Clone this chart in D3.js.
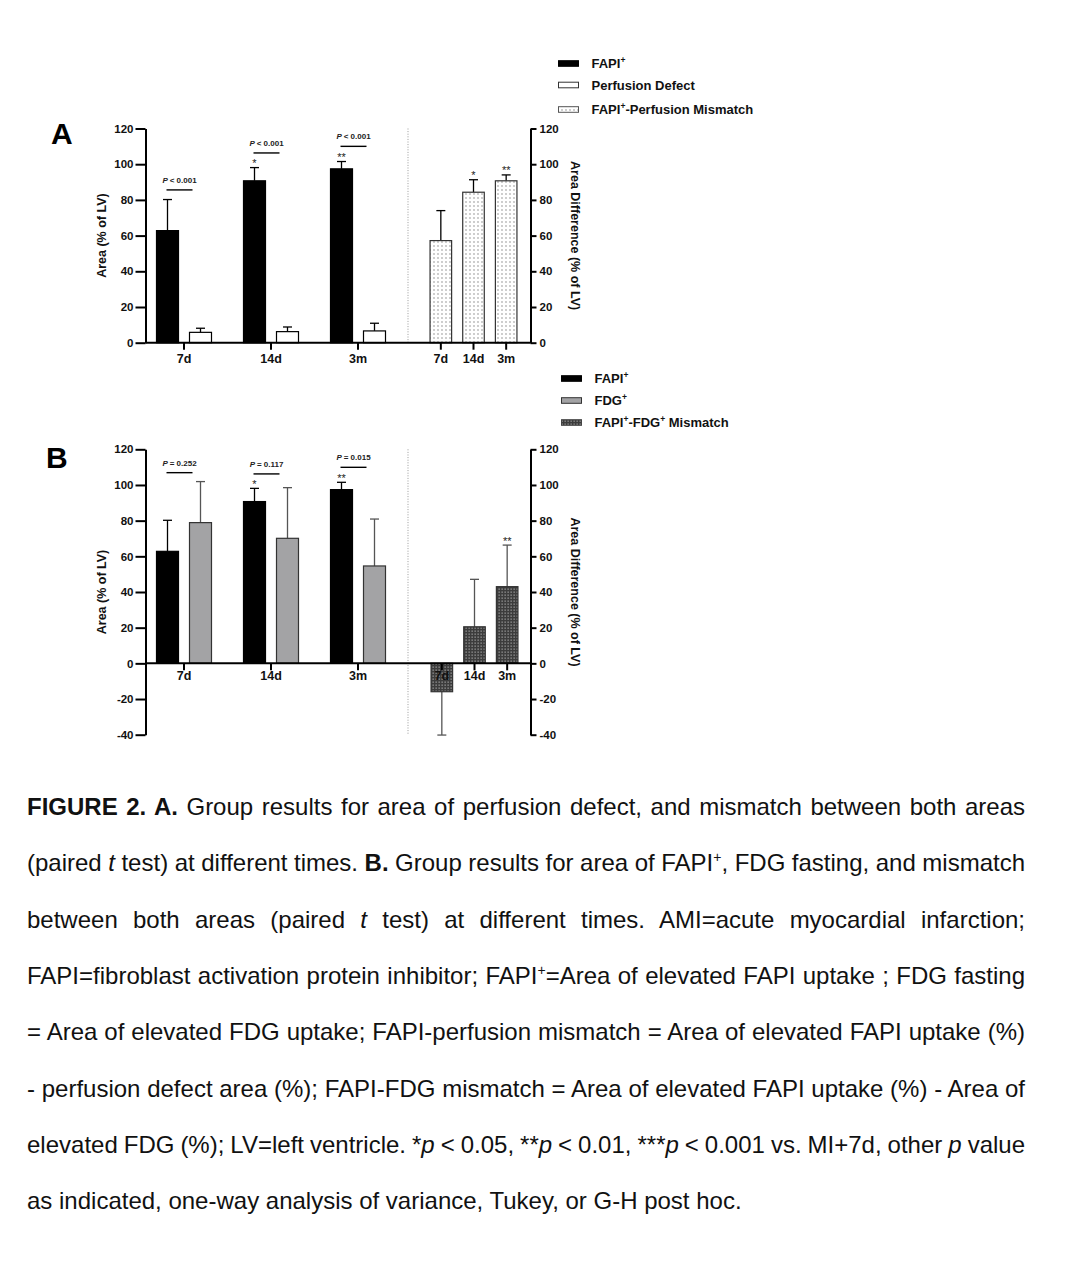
<!DOCTYPE html>
<html><head><meta charset="utf-8">
<script src="https://cdn.jsdelivr.net/npm/d3@7"></script>
<style>
body{margin:0;background:#fff;}
svg{display:block;}
text{font-family:"Liberation Sans",Arial,sans-serif;}
</style></head>
<body>
<svg id="chart" width="1084" height="1280"></svg>
<script>
// ---------------- data ----------------
const categories = ["7d", "14d", "3m"];
const yTicksA = [0, 20, 40, 60, 80, 100, 120];
const yTicksB = [-40, -20, 0, 20, 40, 60, 80, 100, 120];

// Panel A
const fapiMean = [62.8, 90.7, 97.4];
const fapiErr  = [17.4, 7.4, 4.1];
const perfMean = [5.8, 6.2, 6.6];
const perfErr  = [2.3, 2.6, 4.3];
const mmAMean  = [57.2, 84.3, 90.7];
const mmAErr   = [16.8, 7.0, 3.3];
const pTextA   = ["< 0.001", "< 0.001", "< 0.001"];
const pLevelA  = [85.6, 106.3, 110.0];
const starsFapi = ["", "*", "**"];
const starsMmA  = ["", "*", "**"];

// Panel B
const fdgMean  = [78.9, 70.1, 54.6];
const fdgErr   = [23.0, 28.4, 26.3];
const mmBMean  = [-15.9, 20.5, 43.0];
const mmBErr   = [24.3, 26.6, 23.3];
const pTextB   = ["= 0.252", "= 0.117", "= 0.015"];
const pLevelB  = [106.9, 106.2, 109.9];
const starsMmB = ["", "", "**"];

const legendA = [["FAPI", "+"], ["Perfusion Defect"], ["FAPI", "+", "-Perfusion Mismatch"]];
const legendB = [["FAPI", "+"], ["FDG", "+"], ["FAPI", "+", "-FDG", "+", " Mismatch"]];

// caption: segments [text, style]
const caption = [
  [["FIGURE 2. A.", "b"], [" Group results for area of perfusion defect, and mismatch between both areas", ""]],
  [["(paired ", ""], ["t", "i"], [" test) at different times. ", ""], ["B.", "b"], [" Group results for area of FAPI", ""], ["+", "sup"], [", FDG fasting, and mismatch", ""]],
  [["between both areas (paired ", ""], ["t", "i"], [" test) at different times. AMI=acute myocardial infarction;", ""]],
  [["FAPI=fibroblast activation protein inhibitor; FAPI", ""], ["+", "sup"], ["=Area of elevated FAPI uptake ; FDG fasting", ""]],
  [["= Area of elevated FDG uptake; FAPI-perfusion mismatch = Area of elevated FAPI uptake (%)", ""]],
  [["- perfusion defect area (%); FAPI-FDG mismatch = Area of elevated FAPI uptake (%) - Area of", ""]],
  [["elevated FDG (%); LV=left ventricle. *", ""], ["p", "i"], [" < 0.05, **", ""], ["p", "i"], [" < 0.01, ***", ""], ["p", "i"], [" < 0.001 vs. MI+7d, other ", ""], ["p", "i"], [" value", ""]],
  [["as indicated, one-way analysis of variance, Tukey, or G-H post hoc.", ""]]
];

// ---------------- drawing ----------------
const svg = d3.select("#chart");
const defs = svg.append("defs");
const pd = defs.append("pattern").attr("id", "dots").attr("patternUnits", "userSpaceOnUse")
  .attr("width", 4).attr("height", 4);
pd.append("rect").attr("width", 4).attr("height", 4).attr("fill", "#fff");
pd.append("circle").attr("cx", 2).attr("cy", 2).attr("r", 0.7).attr("fill", "#777");
const pc = defs.append("pattern").attr("id", "checker").attr("patternUnits", "userSpaceOnUse")
  .attr("width", 3).attr("height", 3);
pc.append("rect").attr("width", 3).attr("height", 3).attr("fill", "#3c3c3c");
pc.append("rect").attr("x", 0.5).attr("y", 0.5).attr("width", 1.3).attr("height", 1.3).attr("fill", "#9a9a9a");

const xLeftAxis = 145.5, xRightAxis = 530.5;
const xGroup = d3.scaleBand().domain(categories).range([140.5, 401.5]);
const xInner = d3.scaleBand().domain(["s0", "s1"]).range([10.5, 76.5]).paddingInner(1/3).paddingOuter(1/6);
const fmt = d => String(d);

// rich text helper: parts with "+" as superscript
function richText(t, parts, supSize, supShift) {
  let pendingDy = 0;
  parts.forEach(p => {
    if (p === "+") {
      t.append("tspan").attr("font-size", supSize).attr("dy", -supShift).text("+");
      pendingDy = supShift;
    } else {
      const ts = t.append("tspan").text(p);
      if (pendingDy) { ts.attr("dy", pendingDy); pendingDy = 0; }
    }
  });
}

function drawPanel(cfg) {
  const y = d3.scaleLinear().domain(cfg.domain).range(cfg.range);
  const xR = d3.scaleBand().domain(categories).range(cfg.rightRange).paddingInner(0.34).paddingOuter(0.17);
  const g = svg.append("g");

  // divider
  g.append("line").attr("x1", 408).attr("x2", 408).attr("y1", y(cfg.domain[1])).attr("y2", y(cfg.domain[0]))
    .attr("stroke", "#9a9a9a").attr("stroke-width", 1).attr("stroke-dasharray", "1,1.6");

  function bars(means, errs, xpos, width, fill, stroke, errColor) {
    means.forEach((m, i) => {
      const x0 = xpos(i);
      const top = Math.min(y(m), y(0)), h = Math.abs(y(m) - y(0));
      const e = m >= 0 ? m + errs[i] : m - errs[i];
      const cx = x0 + width / 2;
      g.append("line").attr("x1", cx).attr("x2", cx).attr("y1", y(m)).attr("y2", y(e))
        .attr("stroke", errColor).attr("stroke-width", 1.3);
      g.append("line").attr("x1", cx - 4.5).attr("x2", cx + 4.5).attr("y1", y(e)).attr("y2", y(e))
        .attr("stroke", errColor).attr("stroke-width", 1.3);
      g.append("rect").attr("x", x0).attr("y", top).attr("width", width).attr("height", h)
        .attr("fill", fill).attr("stroke", stroke).attr("stroke-width", 1.2);
    });
  }
  const bw = xInner.bandwidth();
  bars(fapiMean, fapiErr, i => xGroup(categories[i]) + xInner("s0"), bw, "#000", "#000", "#000");
  bars(cfg.second, cfg.secondErr, i => xGroup(categories[i]) + xInner("s1"), bw, cfg.secondFill, cfg.secondStroke, cfg.secondErrColor);
  bars(cfg.mm, cfg.mmErr, i => xR(categories[i]), xR.bandwidth(), cfg.mmFill, "#333", cfg.mmErrColor);

  // p-value brackets
  cfg.pLevel.forEach((v, i) => {
    const x1 = xGroup(categories[i]) + xInner("s0") + bw / 2 - 1;
    const x2 = xGroup(categories[i]) + xInner("s1") + bw / 2 - 8;
    g.append("line").attr("x1", x1).attr("x2", x2).attr("y1", y(v)).attr("y2", y(v))
      .attr("stroke", "#000").attr("stroke-width", 1.4);
    const t = g.append("text").attr("x", (x1 + x2) / 2).attr("y", y(v) - 7).attr("text-anchor", "middle")
      .attr("font-size", 8).attr("font-weight", "bold").attr("fill", "#222");
    t.append("tspan").attr("font-style", "italic").text("P ");
    t.append("tspan").text(cfg.pText[i]);
  });

  // stars
  function stars(arr, means, errs, xpos, width) {
    arr.forEach((s, i) => {
      if (!s) return;
      g.append("text").attr("x", xpos(i) + width / 2).attr("y", y(means[i] + errs[i]) - 0.5)
        .attr("text-anchor", "middle").attr("font-size", 11).attr("fill", "#222").text(s);
    });
  }
  stars(starsFapi, fapiMean, fapiErr, i => xGroup(categories[i]) + xInner("s0"), bw);
  stars(cfg.mmStars, cfg.mm, cfg.mmErr, i => xR(categories[i]), xR.bandwidth());

  // axes
  const la = g.append("g").attr("transform", `translate(${xLeftAxis},0)`)
    .call(d3.axisLeft(y).tickValues(cfg.ticks).tickFormat(fmt).tickSize(10).tickPadding(2).tickSizeOuter(0));
  const ra = g.append("g").attr("transform", `translate(${xRightAxis},0)`)
    .call(d3.axisRight(y).tickValues(cfg.ticks).tickFormat(fmt).tickSize(6).tickPadding(3).tickSizeOuter(0));
  [la, ra].forEach(a => {
    a.selectAll("path,line").attr("stroke", "#000").attr("stroke-width", 2);
    a.selectAll("text").attr("font-size", 11.5).attr("font-weight", "bold").attr("fill", "#111");
    a.attr("font-family", null);
  });
  // x axis
  g.append("line").attr("x1", xLeftAxis).attr("x2", xRightAxis).attr("y1", y(0)).attr("y2", y(0))
    .attr("stroke", "#000").attr("stroke-width", 2);
  const xaL = g.append("g").attr("transform", `translate(0,${y(0)})`)
    .call(d3.axisBottom(xGroup).tickSize(7).tickPadding(cfg.xPad).tickSizeOuter(0));
  const xaR = g.append("g").attr("transform", `translate(0,${y(0)})`)
    .call(d3.axisBottom(xR).tickSize(7).tickPadding(cfg.xPad).tickSizeOuter(0));
  [xaL, xaR].forEach(a => {
    a.select(".domain").remove();
    a.selectAll("line").attr("stroke", "#000").attr("stroke-width", 2);
    a.selectAll("text").attr("font-size", 12.5).attr("font-weight", "bold").attr("fill", "#111");
    a.attr("font-family", null);
  });

  // axis titles
  const midY = (y(cfg.domain[0]) + y(cfg.domain[1])) / 2;
  g.append("text").attr("transform", `translate(${cfg.ltX},${midY}) rotate(-90)`).attr("text-anchor", "middle")
    .attr("font-size", 12.5).attr("font-weight", "bold").attr("fill", "#111").text("Area (% of LV)");
  g.append("text").attr("transform", `translate(${cfg.rtX},${midY}) rotate(90)`).attr("text-anchor", "middle")
    .attr("font-size", 12.5).attr("font-weight", "bold").attr("fill", "#111").text("Area Difference (% of LV)");

  // panel letter
  g.append("text").attr("x", cfg.letterX).attr("y", cfg.letterY).attr("font-size", 30).attr("font-weight", "bold")
    .attr("fill", "#000").text(cfg.letter);

  // legend
  cfg.legend.forEach((parts, i) => {
    const cy = cfg.legY[i];
    g.append("rect").attr("x", cfg.legX).attr("y", cy - 2.8).attr("width", 20).attr("height", 5.6)
      .attr("fill", cfg.legFill[i]).attr("stroke", cfg.legStroke[i]).attr("stroke-width", 1);
    const t = g.append("text").attr("x", cfg.legX + 33).attr("y", cy + 4.5).attr("font-size", 13)
      .attr("font-weight", "bold").attr("fill", "#111");
    richText(t, parts, 8.5, 5);
  });
}

drawPanel({
  domain: [0, 120], range: [342.7, 128.5], ticks: yTicksA, rightRange: [424.5, 522.5],
  second: perfMean, secondErr: perfErr, secondFill: "#fff", secondStroke: "#000", secondErrColor: "#000",
  mm: mmAMean, mmErr: mmAErr, mmFill: "url(#dots)", mmErrColor: "#000", mmStars: starsMmA,
  pLevel: pLevelA, pText: pTextA, xPad: 4.5, ltX: 106, rtX: 571,
  letter: "A", letterX: 51, letterY: 144,
  legend: legendA, legX: 558.5, legY: [63.5, 85, 109.5],
  legFill: ["#000", "#fff", "url(#dots)"], legStroke: ["#000", "#333", "#555"]
});
drawPanel({
  domain: [-40, 120], range: [734.7, 449.3], ticks: yTicksB, rightRange: [425.5, 523.5],
  second: fdgMean, secondErr: fdgErr, secondFill: "#a3a3a5", secondStroke: "#333", secondErrColor: "#555",
  mm: mmBMean, mmErr: mmBErr, mmFill: "url(#checker)", mmErrColor: "#555", mmStars: starsMmB,
  pLevel: pLevelB, pText: pTextB, xPad: 0.8, ltX: 106, rtX: 571,
  letter: "B", letterX: 46, letterY: 468,
  legend: legendB, legX: 561.5, legY: [378.5, 400.5, 422.5],
  legFill: ["#000", "#a3a3a5", "url(#checker)"], legStroke: ["#000", "#333", "#444"]
});

// caption
const capX = 27, capW = 998, capY0 = 815, capDY = 56.3;
caption.forEach((segs, li) => {
  const t = svg.append("text").attr("x", capX).attr("y", capY0 + li * capDY)
    .attr("font-size", 24).attr("fill", "#111");
  let pendingDy = 0;
  segs.forEach(([s, st]) => {
    const ts = t.append("tspan");
    if (st === "b") ts.attr("font-weight", "bold");
    if (st === "i") ts.attr("font-style", "italic");
    if (st === "sup") {
      ts.attr("font-size", 14).attr("dy", -9).text(s);
      pendingDy = 9;
    } else {
      ts.text(s);
      if (pendingDy) { ts.attr("dy", pendingDy); pendingDy = 0; }
    }
  });
  if (li < caption.length - 1) {
    const full = segs.map(d => d[0]).join("");
    const n = (full.match(/ /g) || []).length;
    const L = t.node().getComputedTextLength();
    t.attr("word-spacing", (capW - L) / n);
  }
});
</script>
</body></html>
